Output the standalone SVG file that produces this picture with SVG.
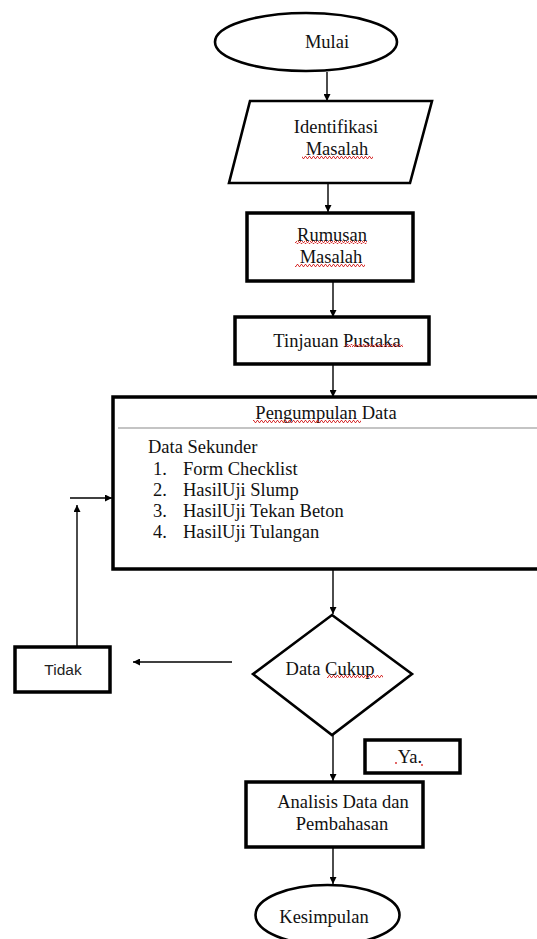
<svg xmlns="http://www.w3.org/2000/svg" width="537" height="939" viewBox="0 0 537 939">
<style>
  .bg{fill:#ffffff}
  .shape{fill:#ffffff;stroke:#000000;stroke-width:3.5}
  .thin{fill:#ffffff;stroke:#000000;stroke-width:2.6}
  .t{font-family:"Liberation Serif","Times New Roman",serif;font-size:18.5px;fill:#111111}
  .c{text-anchor:middle}
  .s{font-family:"Liberation Sans",Arial,sans-serif;font-size:15.5px;fill:#222222}
  .conn line{stroke:#000000;stroke-width:1.4}
</style>
<defs>
  <marker id="ah" viewBox="0 0 10 10" refX="10" refY="5" markerWidth="7" markerHeight="7" markerUnits="userSpaceOnUse" orient="auto">
    <path d="M0,0 L10,5 L0,10 z" fill="#000000"/>
  </marker>
  <pattern id="wave" x="0" y="0" width="4" height="3" patternUnits="userSpaceOnUse">
    <path d="M0,2.5 L1,0.5 L2,0.5 L3,2.5 L4,2.5" fill="none" stroke="#d42020" stroke-width="0.9"/>
  </pattern>
</defs>
<rect class="bg" x="0" y="0" width="537" height="939"/>

<g id="connectors" class="conn">
  <line x1="327" y1="72" x2="327" y2="101" marker-end="url(#ah)"/>
  <line x1="328" y1="183" x2="328" y2="212" marker-end="url(#ah)"/>
  <line x1="333" y1="281" x2="333" y2="317" marker-end="url(#ah)"/>
  <line x1="333" y1="364" x2="333" y2="397" marker-end="url(#ah)"/>
  <line x1="333" y1="569" x2="333" y2="614" marker-end="url(#ah)"/>
  <line x1="333" y1="735" x2="333" y2="781" marker-end="url(#ah)"/>
  <line x1="333" y1="847" x2="333" y2="884" marker-end="url(#ah)"/>
  <line x1="232" y1="662" x2="133" y2="662" marker-end="url(#ah)"/>
  <line x1="77" y1="647" x2="77" y2="505" marker-end="url(#ah)"/>
  <line x1="70" y1="498" x2="112" y2="498" marker-end="url(#ah)"/>
</g>

<g id="mulai">
  <ellipse class="thin" cx="306" cy="42" rx="91" ry="29" stroke-width="3.2"/>
  <text class="t c" x="327" y="48">Mulai</text>
</g>

<g id="identifikasi">
  <polygon class="thin" points="250,101 432,101 410,183 229,183" stroke-width="3.2"/>
  <text class="t c" x="336" y="133">Identifikasi</text>
  <text class="t c" x="337" y="155">Masalah</text>
  <rect x="302" y="156" width="71" height="3" fill="url(#wave)"/>
</g>

<g id="rumusan">
  <rect class="shape" x="247" y="213" width="166" height="68"/>
  <text class="t c" x="332" y="241">Rumusan</text>
  <text class="t c" x="331" y="263">Masalah</text>
  <rect x="295" y="241" width="72" height="3" fill="url(#wave)"/>
  <rect x="295" y="264" width="70" height="3" fill="url(#wave)"/>
</g>

<g id="tinjauan">
  <rect class="shape" x="235" y="317" width="194" height="47"/>
  <text class="t c" x="337" y="347">Tinjauan Pustaka</text>
  <rect x="345" y="344" width="58" height="3" fill="url(#wave)"/>
</g>

<g id="pengumpulan">
  <rect class="shape" x="113" y="397" width="440" height="172"/>
  <line x1="118" y1="428" x2="537" y2="428" stroke="#b0b0b0" stroke-width="1.5"/>
  <text class="t c" x="326" y="419">Pengumpulan Data</text>
  <rect x="253" y="420" width="108" height="3" fill="url(#wave)"/>
  <text class="t" x="148" y="453">Data Sekunder</text>
  <text class="t" x="153" y="475">1.</text>
  <text class="t" x="183" y="475">Form Checklist</text>
  <text class="t" x="153" y="496">2.</text>
  <text class="t" x="183" y="496">HasilUji Slump</text>
  <text class="t" x="153" y="517">3.</text>
  <text class="t" x="183" y="517">HasilUji Tekan Beton</text>
  <text class="t" x="153" y="538">4.</text>
  <text class="t" x="183" y="538">HasilUji Tulangan</text>
</g>

<g id="data-cukup">
  <polygon class="thin" points="332,615 412,674 332,735 253,674"/>
  <text class="t c" x="330" y="675">Data Cukup</text>
  <rect x="327" y="675" width="56" height="3" fill="url(#wave)"/>
</g>

<g id="tidak">
  <rect class="shape" x="15" y="647" width="95" height="45"/>
  <text class="s c" x="63" y="675">Tidak</text>
</g>

<g id="ya">
  <rect class="shape" x="365" y="740" width="95" height="33"/>
  <text class="t c" x="410" y="763">Ya.</text>
  <circle cx="396" cy="763" r="0.9" fill="#d42020"/>
  <circle cx="422" cy="765" r="0.9" fill="#d42020"/>
</g>

<g id="analisis">
  <rect class="shape" x="246" y="782" width="177" height="65"/>
  <text class="t c" x="343" y="808">Analisis Data dan</text>
  <text class="t c" x="342" y="830">Pembahasan</text>
</g>

<g id="kesimpulan">
  <ellipse class="thin" cx="327.5" cy="915" rx="72" ry="30" stroke-width="3.2"/>
  <text class="t c" x="324" y="923">Kesimpulan</text>
</g>
</svg>
